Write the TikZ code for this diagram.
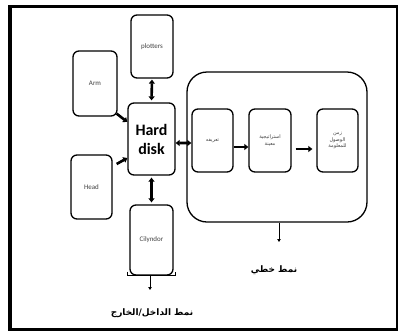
\documentclass[tikz,border=0pt]{standalone}
\usepackage{fontspec}
\setmainfont{Carlito}
\newfontfamily\arabicfont[Script=Arabic]{DejaVu Sans}
\TeXXeTstate=1
\usetikzlibrary{arrows.meta}
\begin{document}
\begin{tikzpicture}[x=1bp,y=-1bp,
  box/.style={draw, line width=1.3bp, rounded corners=6bp, inner sep=1bp, align=center},
  lbl/.style={font=\fontsize{7}{8}\selectfont, text=black!75},
  arlbl/.style={font=\arabicfont\fontsize{5}{6.5}\selectfont, text=black!75},
  fat/.style={line width=2.6bp, -{Triangle[length=4bp,width=6bp]}},
  fatboth/.style={line width=2.6bp, {Triangle[length=4bp,width=6bp]}-{Triangle[length=4bp,width=6bp]}},
  thin/.style={line width=1bp, -{Triangle[length=3bp,width=3.5bp]}}]
\useasboundingbox (0,0) rectangle (398,331);
\draw[line width=3bp] (10,6) rectangle (397,329);
% left cluster
\node[box, lbl, minimum width=42bp, minimum height=63bp] (plot) at (152,46.5) {plotters};
\node[box, lbl, minimum width=44bp, minimum height=65bp] (arm) at (95,83.5) {Arm};
\node[box, minimum width=47bp, minimum height=72bp, font=\fontsize{16}{19}\selectfont\bfseries] (hd) at (151.5,139) {Hard\\disk};
\node[box, lbl, minimum width=41bp, minimum height=64bp] (head) at (91.5,187) {Head};
\node[box, lbl, minimum width=43bp, minimum height=70bp] (cil) at (151.5,240) {Cilyndor};
\draw[line width=1.2bp] ([xshift=-2bp,yshift=4bp]cil.south west) -- ([xshift=-2bp]cil.south west) -- ([xshift=2bp]cil.south east) -- ([xshift=2bp,yshift=4bp]cil.south east);
% right big container
\node[draw, line width=1.3bp, rounded corners=20bp, minimum width=180bp, minimum height=150bp] (big) at (277,147) {};
\node[box, arlbl, minimum width=41bp, minimum height=63bp] (b1) at (212.5,140.5) {\beginR تعريفه\endR};
\node[box, arlbl, minimum width=42bp, minimum height=63bp] (b2) at (270,140.5) {\beginR استراتيجية\endR\\\beginR معينة\endR};
\node[box, arlbl, minimum width=41bp, minimum height=63bp] (b3) at (337.5,140.5) {\beginR زمن\endR\\\beginR الوصول\endR\\\beginR للمعلومة\endR};
% connectors
\draw[fatboth, shorten <=1bp, shorten >=2bp] (plot.south) -- (hd.north);
\draw[fatboth, shorten <=2bp, shorten >=2bp] (hd.south) -- (cil.north);
\draw[fat] ([xshift=-1bp,yshift=3bp]arm.south east) -- ([yshift=17bp]hd.west);
\draw[fat] ([xshift=4bp,yshift=23bp]head.east) -- ([yshift=-19bp]hd.west);
\draw[fatboth] ([yshift=-4bp]hd.east) -- ([yshift=-2.5bp]b1.west);
\draw[fat] ([yshift=-6.5bp]b1.east) -- ([yshift=-6.5bp]b2.west);
\draw[fat, shorten <=4bp, shorten >=4bp] ([yshift=-8.5bp]b2.east) -- ([yshift=-8.5bp]b3.west);
\coordinate (bigout) at (279,242);
\coordinate (cilout) at (150,290);
\draw[thin] (big.south -| bigout) -- (bigout);
\draw[thin] (cil.south -| cilout) -- (cilout);
\node[font=\arabicfont\bfseries\fontsize{9}{11}\selectfont] (lin) at (274,270) {\beginR نمط خطي\endR};
\node[font=\arabicfont\bfseries\fontsize{9}{11}\selectfont] (io) at (152,313) {\beginR نمط الداخل/الخارج\endR};
\end{tikzpicture}
\end{document}
